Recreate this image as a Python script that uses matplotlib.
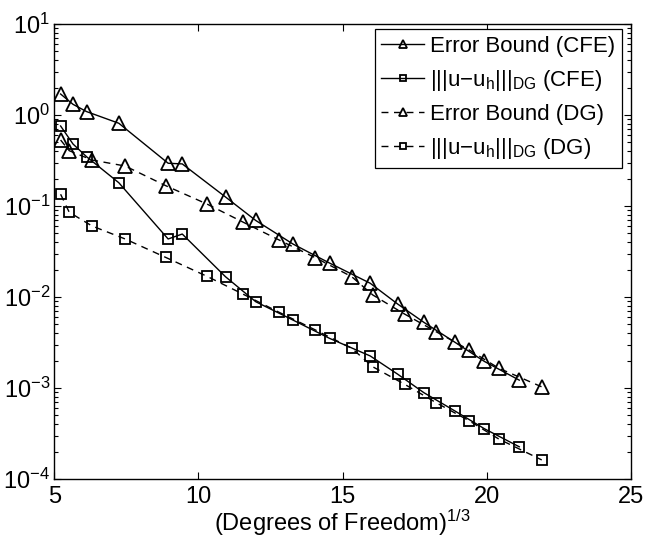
import matplotlib
matplotlib.use("Agg")
import matplotlib.pyplot as plt
from matplotlib.ticker import LogLocator, NullFormatter, FixedLocator

plt.rcParams['font.family'] = ['Liberation Sans', 'DejaVu Sans']
plt.rcParams['mathtext.fontset'] = 'custom'
plt.rcParams['mathtext.rm'] = 'Liberation Sans'
plt.rcParams['mathtext.it'] = 'Liberation Sans:italic'
plt.rcParams['mathtext.default'] = 'regular'

# x positions: (Degrees of Freedom)^(1/3)
x_cfe = [5.22, 5.65, 6.12, 7.24, 8.95, 9.44, 10.94, 11.99, 13.28, 14.55,
         15.96, 16.91, 17.82, 18.90, 19.92, 21.13]
x_dg = [5.22, 5.52, 6.31, 7.46, 8.87, 10.30, 11.54, 12.80, 14.06, 15.32,
        16.05, 17.15, 18.25, 19.39, 20.42, 21.91]

bound_cfe = [1.70, 1.31, 1.09, 0.811, 0.295, 0.290, 0.1256, 0.0693, 0.0382, 0.0236,
             0.01416, 0.00838, 0.00527, 0.00318, 0.00196, 0.00122]
err_cfe = [0.757, 0.480, 0.348, 0.180, 0.0434, 0.0492, 0.0167, 0.00887, 0.00558, 0.00351,
           0.00225, 0.00142, 0.000889, 0.000559, 0.000357, 0.000226]
bound_dg = [0.531, 0.405, 0.320, 0.275, 0.167, 0.105, 0.0667, 0.0423, 0.0270, 0.0167,
            0.01052, 0.00650, 0.00415, 0.00262, 0.00165, 0.00103]
err_dg = [0.1346, 0.0853, 0.0603, 0.0434, 0.0272, 0.01686, 0.01078, 0.00679, 0.00434, 0.00273,
          0.00171, 0.00110, 0.000689, 0.000437, 0.000275, 0.000162]

labels = ['Error Bound (CFE)',
          r'|||u$-$u$_h$|||$_{DG}$ (CFE)',
          'Error Bound (DG)',
          r'|||u$-$u$_h$|||$_{DG}$ (DG)']
xticks = [5, 10, 15, 20, 25]

fig = plt.figure(figsize=(6.46, 5.39), dpi=100)
ax = fig.add_axes([0.084, 0.1113, 0.8925, 0.8442])

kw = dict(color='black', linewidth=1.0, markerfacecolor='none', markeredgecolor='black',
          markeredgewidth=1.3)
ax.semilogy(x_cfe, bound_cfe, '-', marker='^', markersize=10, label=labels[0], **kw)
ax.semilogy(x_cfe, err_cfe, '-', marker='s', markersize=7.5, label=labels[1], **kw)
ax.semilogy(x_dg, bound_dg, '--', marker='^', markersize=10, label=labels[2],
            dashes=(5, 4), **kw)
ax.semilogy(x_dg, err_dg, '--', marker='s', markersize=7.5, label=labels[3],
            dashes=(5, 4), **kw)

ax.set_xlim(5, 25)
ax.set_ylim(1e-4, 1e1)
ax.xaxis.set_major_locator(FixedLocator(xticks))
ax.yaxis.set_major_locator(LogLocator(base=10, numticks=10))
ax.yaxis.set_minor_locator(LogLocator(base=10, subs=range(2, 10), numticks=20))
ax.yaxis.set_minor_formatter(NullFormatter())

ax.tick_params(which='both', direction='in', top=True, right=True, labelsize=17, width=0.8)
ax.tick_params(which='major', length=5)
ax.tick_params(which='minor', length=3)
ax.tick_params(axis='x', pad=5)
ax.tick_params(axis='y', pad=3)
for s in ax.spines.values():
    s.set_linewidth(1.0)

ax.set_xlabel(r'(Degrees of Freedom)$^{1/3}$', fontsize=17, labelpad=0)

leg = ax.legend(loc='upper right', bbox_to_anchor=(0.985, 0.989), fontsize=16,
                frameon=True, fancybox=False, edgecolor='black', framealpha=1,
                handlelength=1.9, handletextpad=0.3, borderpad=0.3, labelspacing=0.5,
                markerscale=0.6, borderaxespad=0)
leg.get_frame().set_linewidth(0.9)

fig.savefig('out.png', dpi=100)
